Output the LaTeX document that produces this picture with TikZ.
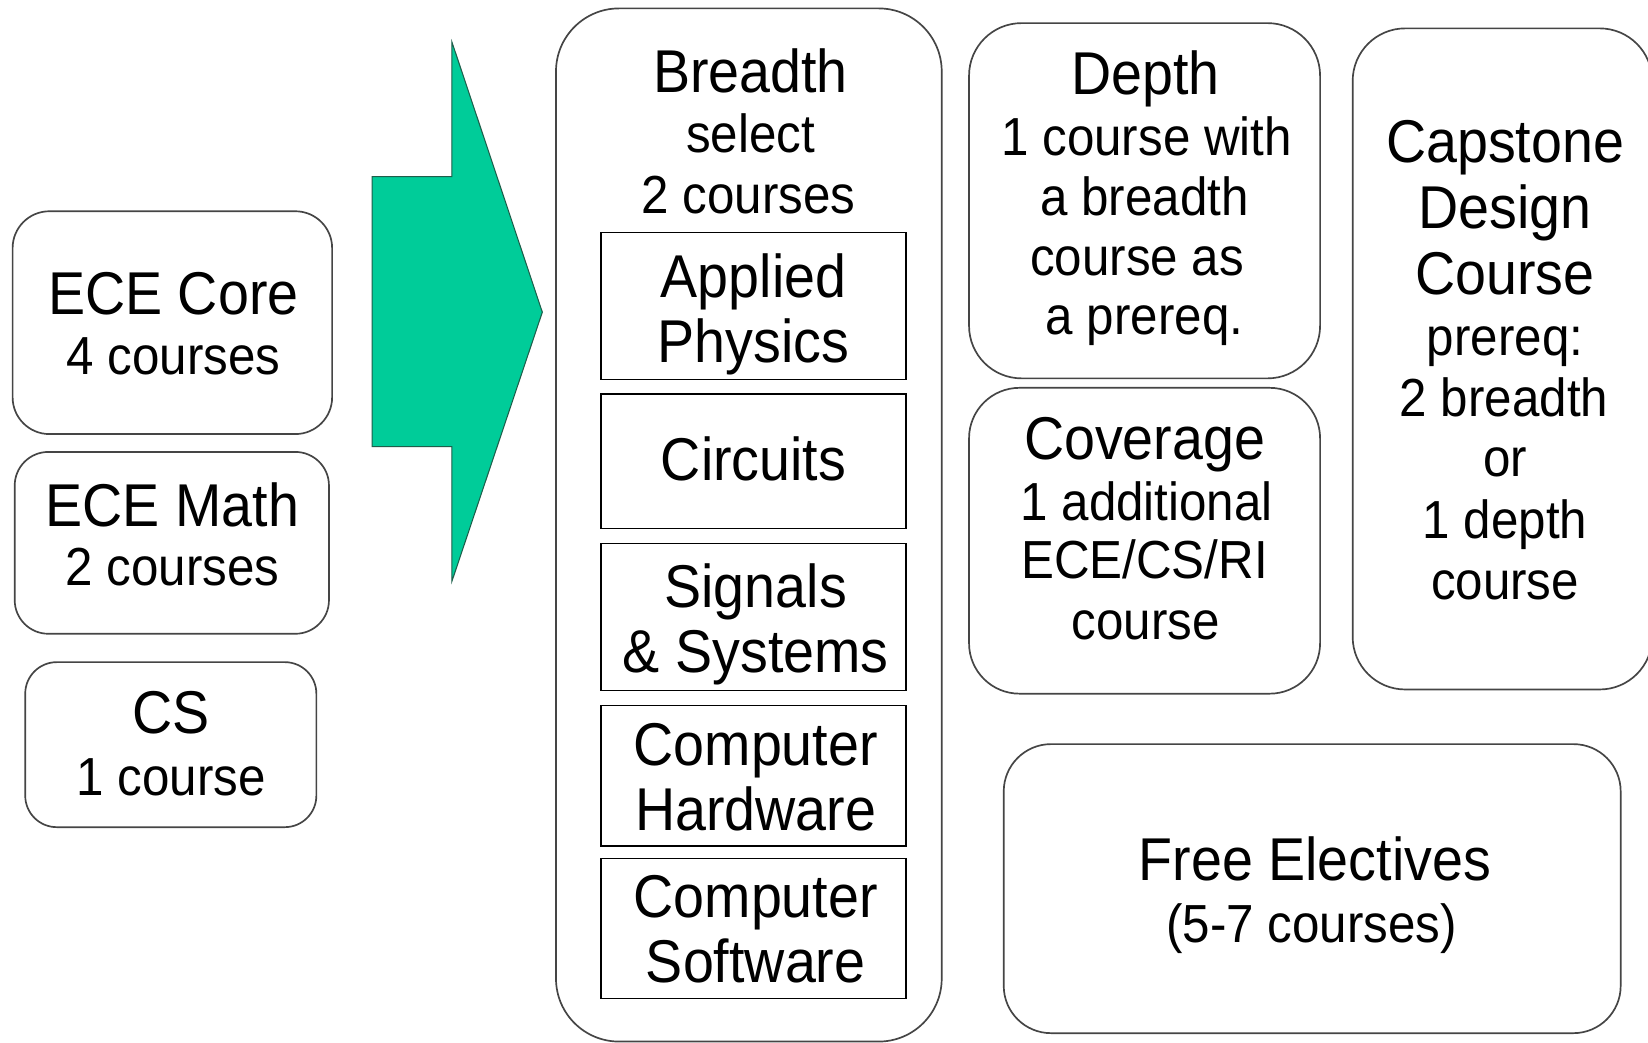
\documentclass[tikz,border=0pt]{standalone}
\usepackage{fontspec}
\setmainfont{Liberation Sans}[FakeStretch=0.92]
\definecolor{arrowgreen}{HTML}{00CC99}
\definecolor{arrowedge}{HTML}{1E5E4A}
\definecolor{boxline}{HTML}{454545}
\tikzset{
  rbox/.style={draw=boxline, line width=1.6pt, fill=white, inner sep=0pt},
  sbox/.style={draw=black, line width=1.4pt, fill=white, inner sep=0pt, minimum width=290pt},
  ttl/.style={anchor=base, inner sep=0pt, font=\fontsize{57.5}{62}\selectfont},
  sub/.style={anchor=base, inner sep=0pt, font=\fontsize{51}{57}\selectfont},
}
\begin{document}
\begin{tikzpicture}[x=1pt,y=-1pt]
\useasboundingbox (0,0) rectangle (1568,992);
\clip (0,0) rectangle (1568,992);
\fill[white] (0,0) rectangle (1568,992);

% left boxes
\node[rbox, rounded corners=35pt, minimum width=304pt, minimum height=212pt] (core) at (164,307) {};
\node[rbox, rounded corners=32pt, minimum width=299pt, minimum height=173pt] (math) at (163.5,516.5) {};
\node[rbox, rounded corners=30pt, minimum width=277pt, minimum height=157pt] (cs) at (162.5,708.5) {};
\node[ttl] (coreT) at (165,299) {ECE Core};
\node[sub] (coreS) at (165,356) {4 courses};
\node[ttl] (mathT) at (164,501) {ECE Math};
\node[sub] (mathS) at (164,557) {2 courses};
\node[ttl] (csT) at (163,698) {CS};
\node[sub] (csS) at (163,757) {1 course};

% big arrow
\draw[fill=arrowgreen, draw=arrowedge, line width=1pt, line join=miter]
  (354,168) -- (430,168) -- (430,40) -- (516,297) -- (430,553) -- (430,425) -- (354,425) -- cycle;

% breadth
\node[rbox, rounded corners=60pt, minimum width=367pt, minimum height=983pt] (breadth) at (712.5,499.5) {};
\node[ttl] (brT) at (714,88) {Breadth};
\node[sub] (brS1) at (714,145) {select};
\node[sub] (brS2) at (712,203) {2 courses};

\node[sbox, minimum height=140pt] (ap) at (717,291) {};
\node[sbox, minimum height=128pt] (circ) at (717,439) {};
\node[sbox, minimum height=140pt] (ss) at (717,587) {};
\node[sbox, minimum height=134pt] (ch) at (717,738) {};
\node[sbox, minimum height=133pt] (csw) at (717,883.5) {};
\node[ttl] (apA) at (717,283) {Applied};
\node[ttl] (apB) at (717,345) {Physics};
\node[ttl] (circA) at (717,457) {Circuits};
\node[ttl] (ssA) at (719,578) {Signals};
\node[ttl] (ssB) at (719,640) {\& Systems};
\node[ttl] (chA) at (719,728) {Computer};
\node[ttl] (chB) at (719,790) {Hardware};
\node[ttl] (cswA) at (719,873) {Computer};
\node[ttl] (cswB) at (719,935) {Software};

% depth
\node[rbox, rounded corners=50pt, minimum width=334pt, minimum height=338pt] (depth) at (1089,191) {};
\node[ttl] (deT) at (1090,90) {Depth};
\node[sub] (deS1) at (1091,148) {1 course with};
\node[sub] (deS2) at (1089,205) {a breadth};
\node[sub] (deS3) at (1082,262) {course as};
\node[sub] (deS4) at (1089,318) {a prereq.};

% coverage
\node[rbox, rounded corners=48pt, minimum width=334pt, minimum height=291pt] (cover) at (1089,514.5) {};
\node[ttl] (coT) at (1089,437) {Coverage};
\node[sub] (coS1) at (1091,495) {1 additional};
\node[sub] (coS2) at (1089,550) {ECE/CS/RI};
\node[sub] (coS3) at (1090,608) {course};

% capstone
\node[rbox, rounded corners=50pt, minimum width=285pt, minimum height=629pt] (cap) at (1429.5,341.5) {};
\node[ttl] (caT1) at (1432,155) {Capstone};
\node[ttl] (caT2) at (1432,217) {Design};
\node[ttl] (caT3) at (1432,280) {Course};
\node[sub] (caS1) at (1432,338) {prereq:};
\node[sub] (caS2) at (1431,396) {2 breadth};
\node[sub] (caS3) at (1432,453) {or};
\node[sub] (caS4) at (1432,512) {1 depth};
\node[sub] (caS5) at (1432,570) {course};

% free electives
\node[rbox, rounded corners=45pt, minimum width=587pt, minimum height=275pt] (free) at (1248.5,845.5) {};
\node[ttl] (frT) at (1251,838) {Free Electives};
\node[sub] (frS) at (1248,897) {(5-7 courses)};
\end{tikzpicture}
\end{document}
